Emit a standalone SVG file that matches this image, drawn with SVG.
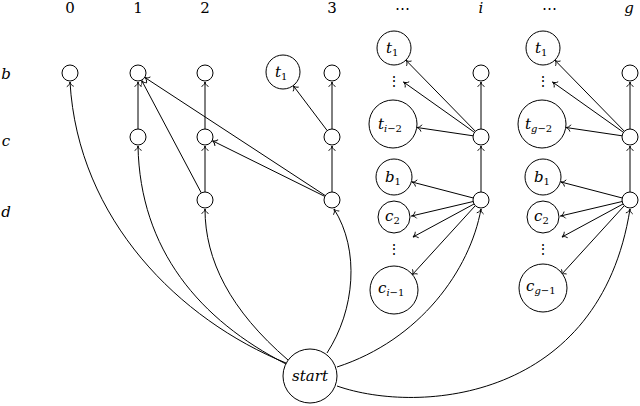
<svg xmlns="http://www.w3.org/2000/svg" width="640" height="406" viewBox="0 0 640 406">
<style>
text{font-family:"DejaVu Serif",serif;fill:#000}
.n{fill:#fff;stroke:#000;stroke-width:1}
.e{fill:none;stroke:#000;stroke-width:1;marker-end:url(#to)}
.t{font-size:15px}
.l{font-size:15px;text-anchor:middle}
.s{font-size:10px;font-style:normal}
.m{font-style:italic}
.d{font-size:14px;text-anchor:middle}
</style>
<defs>
<marker id="to" markerWidth="10" markerHeight="10" refX="0" refY="0" viewBox="-6 -5 7 10" orient="auto" markerUnits="userSpaceOnUse">
<path d="M-4.5,-3.5 C-3.5,-1.2 -1.5,-0.3 0,0 C-1.5,0.3 -3.5,1.2 -4.5,3.5" fill="none" stroke="#000" stroke-width="0.9"/>
</marker>
</defs>
<g id="labels">
<text class="l" x="70" y="13">0</text>
<text class="l" x="138" y="13">1</text>
<text class="l" x="205" y="13">2</text>
<text class="l" x="332" y="13">3</text>
<text class="l" x="402" y="13">⋯</text>
<text class="l m" x="481" y="13">i</text>
<text class="l" x="549" y="13">⋯</text>
<text class="l m" x="629" y="13">g</text>
<text class="l m" x="6" y="79">b</text>
<text class="l m" x="6" y="146">c</text>
<text class="l m" x="6" y="217">d</text>
</g>
<g id="edges">
<path class="e" d="M286,363 C180,320 78,220 70,82"/>
<path class="e" d="M286,364 C200,320 140,250 138,146"/>
<path class="e" d="M288,360 C230,310 205,260 205,209"/>
<path class="e" d="M327,353 C355,310 360,250 334,209"/>
<path class="e" d="M337,367 C420,340 470,270 481,209"/>
<path class="e" d="M337,386 C420,415 600,400 630,209"/>
<path class="e" d="M138,129 L138,82"/>
<path class="e" d="M201.3,192.9 L141.7,80.5"/>
<path class="e" d="M205,192 L205,146"/>
<path class="e" d="M205,129 L205,82"/>
<path class="e" d="M325.3,195.6 L144.7,77.4"/>
<path class="e" d="M324.8,196.4 L212.5,140.8"/>
<path class="e" d="M332,192 L332,146"/>
<path class="e" d="M332,129 L332,82"/>
<path class="e" d="M327.2,130.6 L293.2,85.6"/>
<path class="e" d="M481,129 L481,82"/>
<path class="e" d="M481,192 L481,146"/>
<path class="e" d="M475.4,131.3 L405.9,60.2"/>
<path class="e" d="M474.5,132.4 L403.5,82"/>
<path class="e" d="M473.1,135.8 L417,127.5"/>
<path class="e" d="M473.3,198 L412,182"/>
<path class="e" d="M473.2,201.5 L411.5,216"/>
<path class="e" d="M474,204 L413,237"/>
<path class="e" d="M475,206 L412,275"/>
<path class="e" d="M630,129 L630,82"/>
<path class="e" d="M630,192 L630,146"/>
<path class="e" d="M624.4,131.3 L554.9,60.2"/>
<path class="e" d="M623.5,132.4 L552.5,82"/>
<path class="e" d="M622.1,135.8 L566,127.5"/>
<path class="e" d="M622.3,198 L561,182"/>
<path class="e" d="M622.2,201.5 L560.5,216"/>
<path class="e" d="M623,204 L562,237"/>
<path class="e" d="M624,206 L561,275"/>
</g>
<g id="b0"><circle class="n" cx="70" cy="73" r="8"/></g>
<g id="b1"><circle class="n" cx="138" cy="73" r="8"/></g>
<g id="b2"><circle class="n" cx="205" cy="73" r="8"/></g>
<g id="b3"><circle class="n" cx="332" cy="73" r="8"/></g>
<g id="bi"><circle class="n" cx="481" cy="73" r="8"/></g>
<g id="bg"><circle class="n" cx="630" cy="73" r="8"/></g>
<g id="c1"><circle class="n" cx="138" cy="137" r="8"/></g>
<g id="c2"><circle class="n" cx="205" cy="137" r="8"/></g>
<g id="c3"><circle class="n" cx="332" cy="137" r="8"/></g>
<g id="ci"><circle class="n" cx="481" cy="137" r="8"/></g>
<g id="cg"><circle class="n" cx="630" cy="137" r="8"/></g>
<g id="d2"><circle class="n" cx="205" cy="200" r="8"/></g>
<g id="d3"><circle class="n" cx="332" cy="200" r="8"/></g>
<g id="di"><circle class="n" cx="481" cy="200" r="8"/></g>
<g id="dg"><circle class="n" cx="630" cy="200" r="8"/></g>
<g id="t1_3"><circle class="n" cx="283" cy="72" r="17"/><text class="t" x="275" y="77"><tspan class="m">t</tspan><tspan class="s" dy="3">1</tspan></text></g>
<g id="t1_i"><circle class="n" cx="394" cy="48" r="17"/><text class="t" x="386" y="53"><tspan class="m">t</tspan><tspan class="s" dy="3">1</tspan></text></g>
<g id="vdots_ti"><text class="d" x="394" y="86">⋮</text></g>
<g id="tim2"><circle class="n" cx="393" cy="124" r="24"/><text class="t" x="378" y="129"><tspan class="m">t</tspan><tspan class="s m" dy="3">i</tspan><tspan class="s">−2</tspan></text></g>
<g id="b1_i"><circle class="n" cx="394" cy="177" r="18"/><text class="t" x="385" y="182"><tspan class="m">b</tspan><tspan class="s" dy="3">1</tspan></text></g>
<g id="c2_i"><circle class="n" cx="394" cy="217" r="16"/><text class="t" x="385" y="221"><tspan class="m">c</tspan><tspan class="s" dy="3">2</tspan></text></g>
<g id="vdots_ci"><text class="d" x="394" y="254">⋮</text></g>
<g id="cim1"><circle class="n" cx="394" cy="290" r="24"/><text class="t" x="378" y="293"><tspan class="m">c</tspan><tspan class="s m" dy="3">i</tspan><tspan class="s">−1</tspan></text></g>
<g id="t1_g"><circle class="n" cx="543" cy="48" r="17"/><text class="t" x="535" y="53"><tspan class="m">t</tspan><tspan class="s" dy="3">1</tspan></text></g>
<g id="vdots_tg"><text class="d" x="543" y="86">⋮</text></g>
<g id="tgm2"><circle class="n" cx="542" cy="124" r="24"/><text class="t" x="525" y="129"><tspan class="m">t</tspan><tspan class="s m" dy="3">g</tspan><tspan class="s">−2</tspan></text></g>
<g id="b1_g"><circle class="n" cx="543" cy="177" r="18"/><text class="t" x="534" y="182"><tspan class="m">b</tspan><tspan class="s" dy="3">1</tspan></text></g>
<g id="c2_g"><circle class="n" cx="543" cy="217" r="16"/><text class="t" x="534" y="221"><tspan class="m">c</tspan><tspan class="s" dy="3">2</tspan></text></g>
<g id="vdots_cg"><text class="d" x="543" y="254">⋮</text></g>
<g id="cgm1"><circle class="n" cx="543" cy="288" r="24"/><text class="t" x="526" y="291"><tspan class="m">c</tspan><tspan class="s m" dy="3">g</tspan><tspan class="s">−1</tspan></text></g>
<g id="start"><circle class="n" cx="310" cy="376" r="27"/><text class="t m" x="310" y="381" text-anchor="middle">start</text></g>
</svg>
